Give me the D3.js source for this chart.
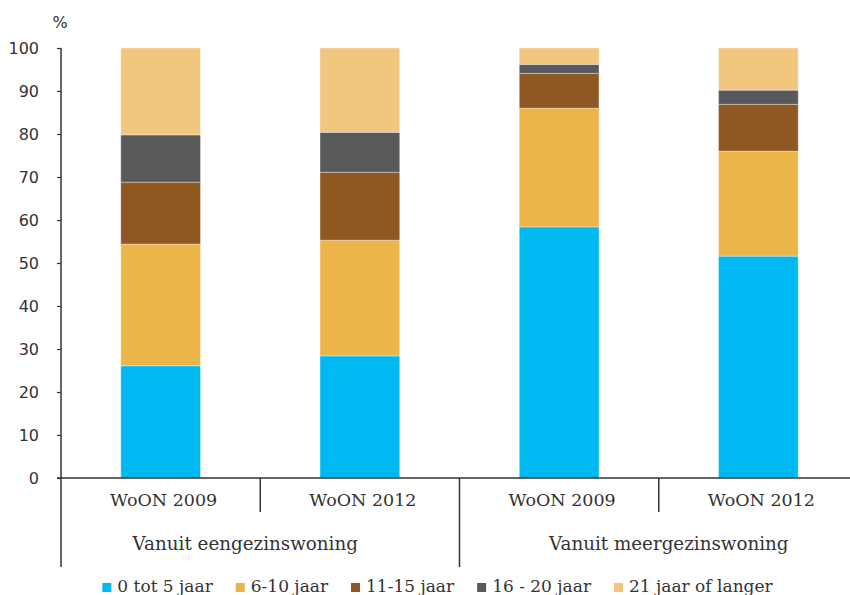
<!DOCTYPE html>
<html>
<head>
<meta charset="utf-8">
<script src="https://cdn.jsdelivr.net/npm/d3@7"></script>
<style>
  html, body { margin: 0; padding: 0; background: #fff; }
  svg { display: block; }
</style>
</head>
<body>
<svg id="chart" width="850" height="595"></svg>
<script>
// ---- data ----
const categories = ["WoON 2009", "WoON 2012", "WoON 2009", "WoON 2012"];
const groups = ["Vanuit eengezinswoning", "Vanuit meergezinswoning"];
const seriesNames = ["0 tot 5 jaar", "6-10 jaar", "11-15 jaar", "16 - 20 jaar", "21 jaar of langer"];
const s0tot5 = [26.1, 28.4, 58.4, 51.6];
const s6tot10 = [28.3, 26.9, 27.6, 24.4];
const s11tot15 = [14.4, 15.8, 8.1, 10.9];
const s16tot20 = [11.0, 9.3, 2.1, 3.3];
const s21plus = [20.2, 19.6, 3.8, 9.8];
const yTicks = [0, 10, 20, 30, 40, 50, 60, 70, 80, 90, 100];

// ---- styles ----
const colors = ["#00B9F2", "#EBB54A", "#8F5822", "#58595B", "#F1C77F"];
const textColor = "#333333";
const serif = "'DejaVu Serif', serif";
const sans = "'DejaVu Sans', sans-serif";

const svg = d3.select("#chart");
const plotLeft = 61, plotRight = 858, plotTop = 48, plotBottom = 478;

const idx = categories.map((c, i) => i);
const x = d3.scaleBand().domain(idx).range([plotLeft, plotRight]).paddingInner(0).paddingOuter(0);
const y = d3.scaleLinear().domain([0, 100]).range([plotBottom, plotTop]);
const barW = x.bandwidth() * 0.4;

const seriesVals = [s0tot5, s6tot10, s11tot15, s16tot20, s21plus];
const table = idx.map(i => {
  const o = { i };
  seriesNames.forEach((n, k) => o[n] = seriesVals[k][i]);
  return o;
});
const stack = d3.stack().keys(seriesNames)(table);

// bars
const layers = svg.append("g").selectAll("g").data(stack).join("g")
  .attr("fill", (d, k) => colors[k]);
layers.selectAll("rect").data(d => d).join("rect")
  .attr("x", d => x(d.data.i) + (x.bandwidth() - barW) / 2)
  .attr("width", barW)
  .attr("y", d => y(d[1]))
  .attr("height", d => y(d[0]) - y(d[1]))
  .attr("stroke", "rgba(255,255,255,0.35)")
  .attr("stroke-width", 1);

// y axis
const yAxis = d3.axisLeft(y).tickValues(yTicks).tickSize(4).tickPadding(18).tickFormat(d3.format("d"));
const gy = svg.append("g").attr("transform", `translate(${plotLeft},0)`).call(yAxis);
gy.select(".domain").attr("stroke", textColor).attr("stroke-width", 1.5).attr("d", `M0,${plotTop}V${plotBottom}`);
gy.selectAll(".tick line").attr("stroke", textColor).attr("stroke-width", 1.2);
gy.selectAll(".tick text").attr("fill", textColor).style("font-family", sans).style("font-size", "16px");

// % label
svg.append("text").attr("x", plotLeft - 1).attr("y", 28).attr("text-anchor", "middle")
  .attr("fill", textColor).style("font-family", sans).style("font-size", "16px").text("%");

// x axis line
const axisG = svg.append("g").attr("stroke", textColor).attr("stroke-width", 1.5);
axisG.append("line").attr("x1", plotLeft - 4).attr("x2", 850).attr("y1", plotBottom).attr("y2", plotBottom);
axisG.append("line").attr("x1", plotLeft).attr("x2", plotLeft).attr("y1", plotBottom).attr("y2", 567);
idx.slice(1).forEach(i => {
  const isGroup = (i % 2 === 0);
  axisG.append("line").attr("x1", x(i)).attr("x2", x(i))
    .attr("y1", plotBottom).attr("y2", isGroup ? 567 : 512);
});

// category labels
svg.append("g").selectAll("text").data(idx).join("text")
  .attr("x", i => x(i) + x.bandwidth() / 2 + 3)
  .attr("y", 506)
  .attr("text-anchor", "middle")
  .attr("fill", textColor)
  .style("font-family", serif).style("font-size", "17.5px")
  .text(i => categories[i]);

// group labels
const groupDx = [-15, 10];
svg.append("g").selectAll("text").data(groups).join("text")
  .attr("x", (g, j) => (x(j * 2) + x(j * 2 + 1) + x.bandwidth()) / 2 + groupDx[j])
  .attr("y", 550)
  .attr("text-anchor", "middle")
  .attr("fill", textColor)
  .style("font-family", serif).style("font-size", "18.3px")
  .text(g => g);

// legend
const legend = svg.append("g");
const items = legend.selectAll("g").data(seriesNames).join("g");
items.append("rect").attr("width", 9).attr("height", 9).attr("y", 583)
  .attr("fill", (d, k) => colors[k]);
items.append("text").attr("x", 15).attr("y", 592)
  .attr("fill", textColor)
  .style("font-family", serif).style("font-size", "17px")
  .text(d => d);
let cx = 0;
const offs = [];
items.each(function () {
  const w = d3.select(this).select("text").node().getComputedTextLength();
  offs.push(cx);
  cx += 15 + w + 23;
});
const total = cx - 23;
const start = 437.5 - total / 2;
items.attr("transform", (d, k) => `translate(${start + offs[k]},0)`);
</script>
</body>
</html>
